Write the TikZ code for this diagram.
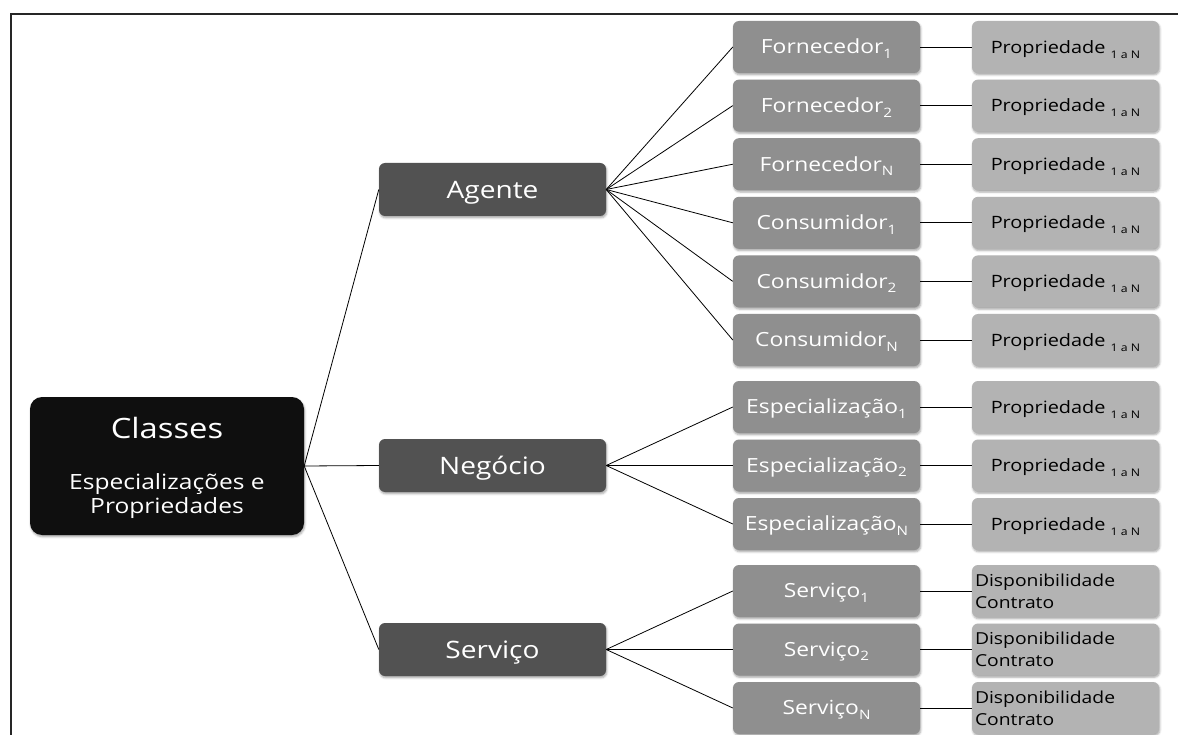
\documentclass[tikz,border=0pt]{standalone}
\usepackage{fontspec}
\usepackage{graphicx}
\setmainfont{Open Sans}[FakeStretch=1.17]
\usetikzlibrary{shadows.blur}
\definecolor{rootfill}{HTML}{0F0F0F}
\definecolor{midfill}{HTML}{525252}
\definecolor{leaffill}{HTML}{8F8F8F}
\definecolor{propfill}{HTML}{B3B3B3}
% lowered indices after the class names and after "Propriedade"
\newcommand\idxA[1]{\raisebox{-4.5pt}{\fontsize{13}{13}\selectfont #1}}
\newcommand\idxB[1]{\raisebox{-5pt}{\fontsize{10.5}{11}\selectfont #1}}

\begin{document}
\begin{tikzpicture}[x=1pt,y=-1pt,
  shade box/.style={rounded corners=6pt, inner sep=0pt, text depth=0pt,
    blur shadow={shadow xshift=0.8pt, shadow yshift=-1.8pt,
      shadow blur radius=2pt, shadow opacity=35}},
  rootbox/.style={shade box, rounded corners=12pt, fill=rootfill,
    minimum width=274pt, minimum height=138pt},
  midbox/.style={shade box, fill=midfill, text=white,
    minimum width=227pt, minimum height=53pt,
    font=\fontsize{24}{28}\selectfont, text height=17.1pt},
  leafbox/.style={shade box, fill=leaffill, text=white,
    minimum width=187pt, minimum height=52pt,
    font=\fontsize{19.5}{23}\selectfont, text height=13.9pt},
  propbox/.style={shade box, fill=propfill, text=black,
    minimum width=187pt, minimum height=52pt,
    font=\fontsize{17}{20}\selectfont, text height=12.1pt},
  contractbox/.style={rounded corners=6pt, fill=propfill, text=black,
    blur shadow={shadow xshift=0.8pt, shadow yshift=-1.8pt,
      shadow blur radius=2pt, shadow opacity=35},
    minimum height=52pt, inner xsep=3pt, inner ysep=0pt,
    text width=181pt, align=left, font=\fontsize{16.5}{22}\selectfont},
  roottext/.style={text=white, inner sep=0pt, anchor=base},
  link/.style={draw=black, line width=0.8pt},
  frameline/.style={draw=black!85, line width=1.2pt}]

\useasboundingbox (0,0) rectangle (1178,735);

% page frame
\draw[frameline] (11,735) -- (11,14) -- (1178,14);

% root
\node[rootbox] (root) at (167,466) {};
\node[roottext, font=\fontsize{28}{32}\selectfont] (rootT) at (167,438.5) {Classes};
\node[roottext, font=\fontsize{21}{23}\selectfont] (rootA) at (167,489) {Especializações e};
\node[roottext, font=\fontsize{21}{23}\selectfont] (rootB) at (167,513.5) {Propriedades};

% second level
\node[midbox] (ag) at (492.5,189.5) {Agente};
\node[midbox] (ng) at (492.5,465.5) {Negócio};
\node[midbox] (sv) at (492.5,649.5) {Serviço};

% third level
\node[leafbox] (f1) at (826.5,47)    {Fornecedor\idxA{1}};
\node[leafbox] (f2) at (826.5,105.6) {Fornecedor\idxA{2}};
\node[leafbox] (fn) at (826.5,164.2) {Fornecedor\idxA{N}};
\node[leafbox] (c1) at (826.5,222.8) {Consumidor\idxA{1}};
\node[leafbox] (c2) at (826.5,281.4) {Consumidor\idxA{2}};
\node[leafbox] (cn) at (826.5,340)   {Consumidor\idxA{N}};
\node[leafbox] (e1) at (826.5,407)   {Especialização\idxA{1}};
\node[leafbox] (e2) at (826.5,465.5) {Especialização\idxA{2}};
\node[leafbox] (en) at (826.5,524)   {Especialização\idxA{N}};
\node[leafbox] (s1) at (826.5,591)   {Serviço\idxA{1}};
\node[leafbox] (s2) at (826.5,649.5) {Serviço\idxA{2}};
\node[leafbox] (sn) at (826.5,708)   {Serviço\idxA{N}};

% property level
\foreach \nm in {f1,f2,fn,c1,c2,cn,e1,e2,en}
  \node[propbox] (p\nm) at ([xshift=239pt]\nm.center) {Propriedade \idxB{1 a N}};
\foreach \nm in {s1,s2,sn}
  \node[contractbox] (p\nm) at ([xshift=239pt]\nm.center) {Disponibilidade\\Contrato};

% connectors
\foreach \nm in {ag,ng,sv}
  \draw[link] (root.east) -- (\nm.west);
\foreach \nm in {f1,f2,fn,c1,c2,cn}
  \draw[link] (ag.east) -- (\nm.west);
\foreach \nm in {e1,e2,en}
  \draw[link] (ng.east) -- (\nm.west);
\foreach \nm in {s1,s2,sn}
  \draw[link] (sv.east) -- (\nm.west);
\foreach \nm in {f1,f2,fn,c1,c2,cn,e1,e2,en,s1,s2,sn}
  \draw[link] (\nm.east) -- (p\nm.west);
\end{tikzpicture}
\end{document}
